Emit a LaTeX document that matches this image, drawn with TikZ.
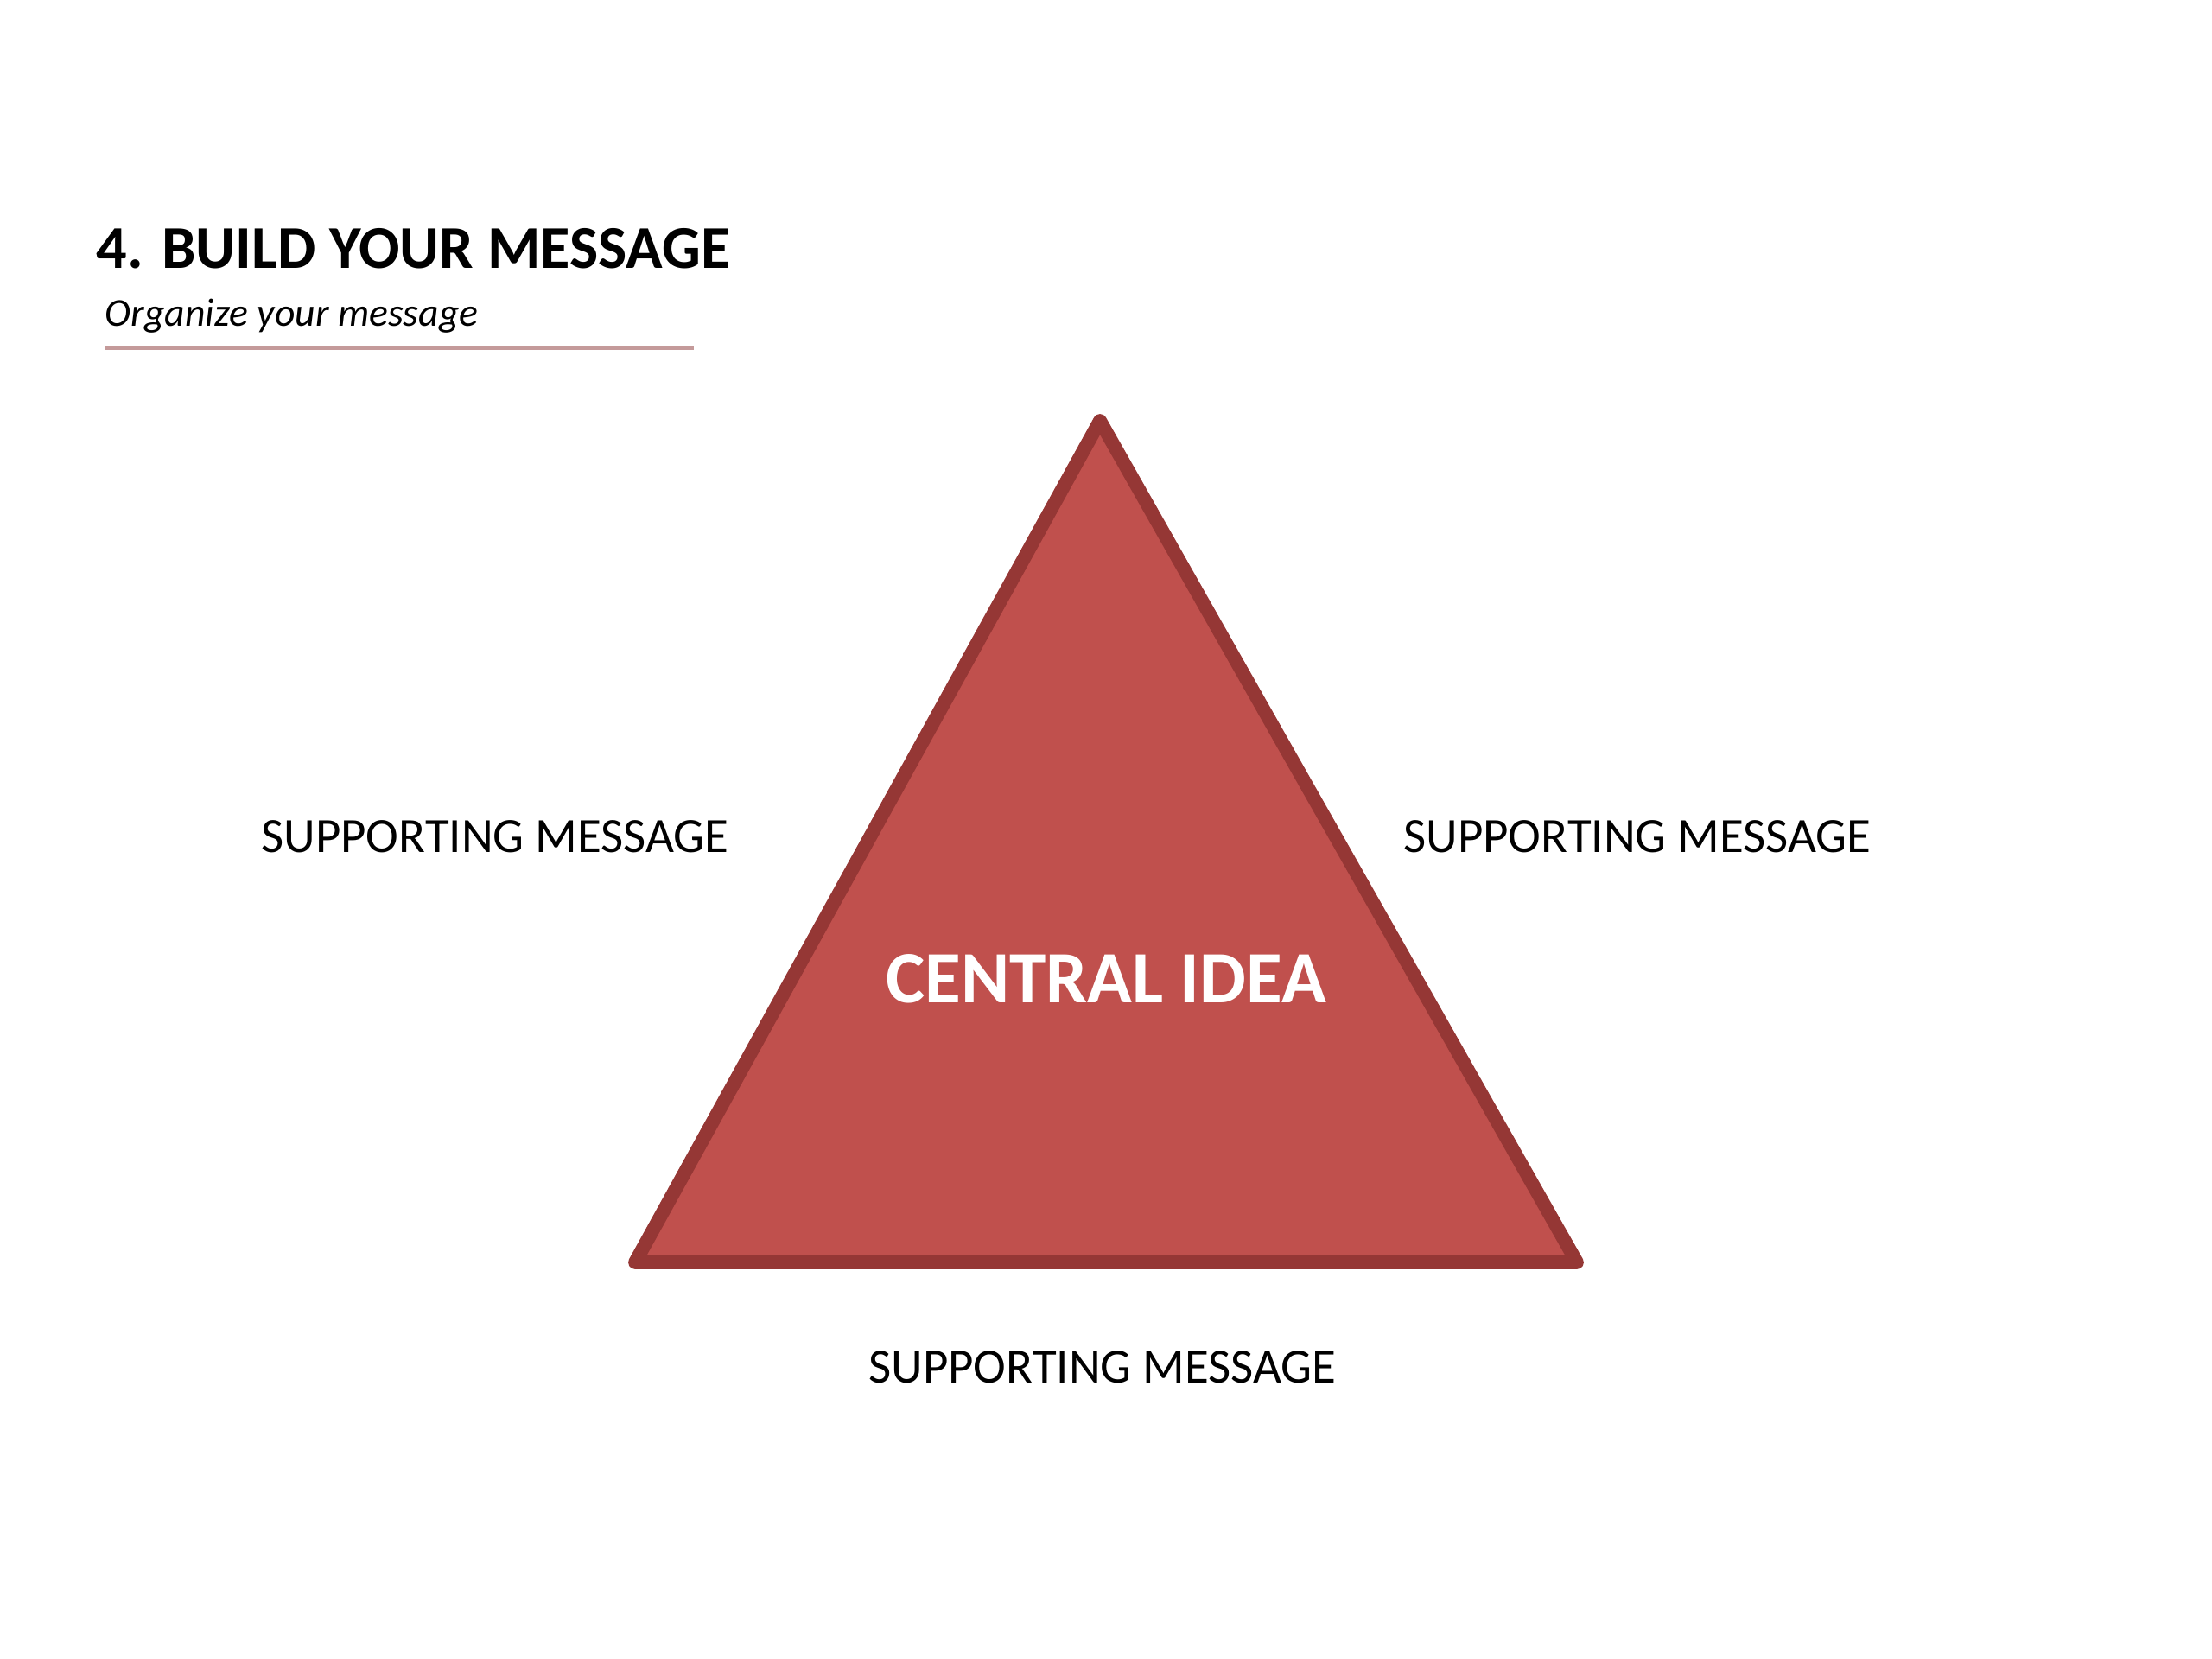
\documentclass[tikz,border=0pt]{standalone}
\usepackage{fontspec}
\setmainfont{Carlito}
\usepackage{tikz}
\definecolor{ideared}{HTML}{C0504D}
\definecolor{idearim}{HTML}{953735}
\definecolor{rulerose}{HTML}{C49A9A}
\tikzset{
  support/.style={font=\fontsize{16.2}{19}\selectfont, inner sep=0pt}
}

\begin{document}
\begin{tikzpicture}
\useasboundingbox (0,0) rectangle (25.6,19.2);
\node[anchor=west, inner sep=0pt, font=\fontsize{20}{24}\selectfont\bfseries] (title) at (1.11,16.32) {4. BUILD YOUR MESSAGE};
\node[anchor=west, inner sep=0pt, font=\fontsize{13}{16}\selectfont\itshape] (subtitle) at (1.21,15.54) {Organize your message};
\draw [rulerose, line width=1.2pt] (1.22,15.17) -- (8.03,15.17);
\coordinate (apex) at (12.73,14.33);
\coordinate (left) at (7.35,4.59);
\coordinate (right) at (18.25,4.59);
\filldraw [fill=ideared, draw=idearim, line width=4.5pt, line join=round] (apex) -- (right) -- (left) -- cycle;
\node[text=white, inner sep=0pt, font=\fontsize{24.3}{29}\selectfont\bfseries] (central) at (12.80,7.87) {CENTRAL IDEA};
\node[support] (suppleft) at (5.73,9.52) {SUPPORTING MESSAGE};
\node[support] (suppright) at (18.95,9.52) {SUPPORTING MESSAGE};
\node[support] (suppbottom) at (12.76,3.38) {SUPPORTING MESSAGE};
\end{tikzpicture}
\end{document}
